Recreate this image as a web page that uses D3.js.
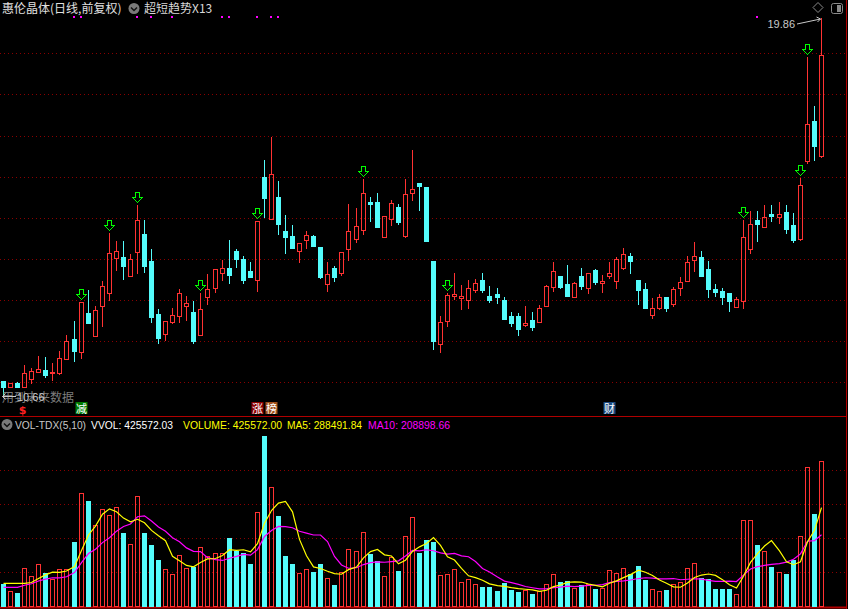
<!DOCTYPE html>
<html><head><meta charset="utf-8">
<script src="https://cdn.jsdelivr.net/npm/d3@7"></script>
<style>
html,body{margin:0;padding:0;background:#000;overflow:hidden;}
svg{display:block;}
</style></head>
<body>
<svg id="c" width="848" height="609"></svg>
<script>
// ---------------- DATA ----------------
const openP  = [11.03,10.87,10.98,10.87,11.08,11.25,11.29,11.21,11.21,11.56,12.05,11.74,12.67,12.13,12.86,13.18,14.03,14.04,13.59,14.17,14.60,13.95,12.66,12.16,12.47,12.62,12.86,12.71,12.15,13.08,13.30,13.65,13.78,14.19,14.00,13.70,13.48,15.99,14.98,15.50,14.68,14.55,14.20,14.46,14.56,14.29,13.39,13.78,13.66,14.25,14.49,14.71,15.38,15.38,14.54,14.98,15.26,14.56,15.59,15.84,15.75,13.95,11.93,12.49,13.10,13.05,13.00,13.24,13.48,13.09,13.14,13.00,12.61,12.61,12.39,12.51,12.47,12.86,13.32,13.58,13.39,13.08,13.58,13.30,13.73,13.42,13.59,13.47,13.78,14.07,13.48,13.27,12.64,12.81,13.07,12.91,13.30,13.47,13.98,14.04,13.75,13.27,13.22,13.17,12.83,12.98,14.25,14.94,14.78,15.09,15.02,15.14,14.82,14.48,16.37,17.35,16.51];
const highP  = [11.03,10.98,11.00,11.42,11.34,11.63,11.61,11.46,11.76,12.15,12.49,12.95,13.24,12.85,13.46,14.63,14.43,14.43,14.11,15.31,14.94,14.24,12.78,12.48,12.80,13.26,13.09,12.97,13.16,13.62,13.75,13.97,14.46,14.24,14.07,13.92,14.92,16.40,16.97,15.89,15.07,14.82,14.38,14.68,14.58,14.29,13.92,13.83,14.17,15.33,15.24,15.94,15.50,15.60,15.03,15.43,15.33,15.94,16.65,15.84,15.75,13.95,12.61,13.16,13.66,13.36,13.48,13.51,13.65,13.34,13.29,13.07,12.71,12.68,12.85,12.71,12.88,13.36,13.92,13.58,13.85,13.43,13.78,13.66,13.75,13.61,13.92,14.04,14.26,14.14,13.48,13.41,13.05,13.14,13.07,13.31,13.56,14.07,14.41,14.19,13.95,13.39,13.29,13.17,13.07,14.94,15.17,15.17,15.31,15.31,15.38,15.31,15.11,15.97,18.92,17.72,19.86];
const lowP   = [10.66,10.87,10.87,10.86,10.95,11.21,11.09,11.03,11.17,11.54,11.48,11.55,12.41,12.13,12.35,12.97,13.70,13.48,13.59,13.62,13.66,12.45,11.92,12.00,12.41,12.45,12.49,11.92,12.14,12.88,13.18,13.46,13.39,13.78,13.39,13.56,13.19,14.99,14.98,14.59,14.12,14.24,13.90,14.24,14.31,13.51,13.19,13.44,13.58,13.95,14.39,14.59,14.90,14.78,14.54,14.81,14.83,14.51,15.41,15.17,14.44,11.78,11.72,12.35,13.00,12.75,12.78,13.18,13.18,12.92,12.90,12.51,12.34,12.12,12.34,12.24,12.47,12.86,13.20,13.27,13.10,13.08,13.24,13.15,13.37,13.18,13.52,13.27,13.73,13.64,12.88,12.81,12.54,12.76,12.71,12.83,13.10,13.47,13.69,13.56,13.05,13.07,12.88,12.71,12.83,12.79,14.12,14.41,14.78,14.90,14.85,14.60,14.38,14.43,16.30,16.37,16.45];
const closeP = [10.87,10.98,10.87,11.21,11.27,11.31,11.17,11.24,11.58,11.99,11.76,12.94,12.44,12.75,13.34,14.13,14.19,13.82,14.00,14.94,13.82,12.59,12.08,12.48,12.63,13.16,12.92,12.00,12.77,13.26,13.75,13.78,13.61,14.00,13.48,13.56,14.92,15.48,16.06,14.85,14.53,14.26,14.38,14.58,14.31,13.56,13.63,13.56,14.17,14.68,14.80,15.60,15.34,14.78,15.03,15.36,14.90,15.58,15.70,15.78,14.44,12.00,12.46,13.12,13.14,13.09,13.29,13.41,13.24,13.00,13.07,12.54,12.44,12.29,12.44,12.34,12.80,13.34,13.70,13.32,13.10,13.41,13.34,13.65,13.44,13.46,13.65,14.00,14.12,13.95,13.24,12.81,12.80,13.07,12.81,13.27,13.44,13.92,14.07,13.58,13.27,13.19,13.07,12.97,13.02,14.53,14.85,14.85,15.02,15.04,15.09,14.72,14.46,15.80,17.28,16.74,18.96];
const volume = [63800,42100,37300,110800,87300,121600,96100,78500,106900,106900,187300,331400,307900,236300,283400,265800,289300,213800,180400,321600,213800,178500,134300,106900,93200,148100,109800,113700,171600,145100,154000,154000,199100,160800,154900,122600,274600,500100,348100,263800,146100,122600,95100,107900,99000,122600,81400,60800,99000,166700,160800,216700,152000,131400,87300,143200,102000,204900,260800,154900,193200,187300,90200,93200,107900,69600,78500,63700,54900,54900,43100,66700,46100,40200,46100,34300,43100,63700,93200,69600,72600,52000,60800,63700,49000,52000,105000,96100,110800,93200,116700,75500,49000,43100,46100,63700,69600,110800,125500,81400,78500,49000,49000,49000,34300,252000,252000,178000,161000,114000,100500,93000,134300,204900,407000,270700,425572];
// the nine sessions before the window (needed for the first MA5 / MA10 values)
const priorVolume = [42000,37000,50000,43000,40000,42100,37300,110800,74000];
const maPeriods = [5, 10];
const priceTicks = [11,12,13,14,15,16,17,18,19];
const volumeTicks = [100000,200000,300000,400000];
const signalArrowDays = [11,15,19,28,36,51,63,105,113,114];
const topDotDays = [10,11,19,21,24,31,32,36,38,39,107];
const badgeDays = [11,36,38,86];
const badgeTexts = ["减","涨","榜","财"];
const stockTitle = "惠伦晶体(日线,前复权)";
const indicatorTitle = "超短趋势X13";
const volHeader = ["VOL-TDX(5,10)","VVOL: 425572.03","VOLUME: 425572.00","MA5: 288491.84","MA10: 208898.66"];
const maxLabel = "19.86";
const minLabel = "10.66";
const noteText = "用到未来数据";

// ---------------- DRAW ----------------
const W = 848, H = 609;
const RED = "#ff3232", CYAN = "#54fcfc", GRID = "#8a0000", FRAME = "#b00000";
const svg = d3.select("#c");
svg.append("rect").attr("width",W).attr("height",H).attr("fill","#000");

const n = openP.length;
const x = d3.scaleLinear().domain([0, n]).range([0, 7.05*n]);
const cx = i => Math.round(x(i+0.5) - 2.5) + 2.5; // pixel center of 5px body
const y = d3.scaleLinear().domain([11,19]).range([382.1, 53.3]);
const vBase = 605.7;
const yv = d3.scaleLinear().domain([0,400000]).range([vBase, vBase - 400000/2941.7]);

// grids
const g = svg.append("g");
g.selectAll("line.pg").data(priceTicks).join("line")
  .attr("x1",0).attr("x2",846).attr("y1",d=>Math.round(y(d))+0.5).attr("y2",d=>Math.round(y(d))+0.5)
  .attr("stroke",GRID).attr("stroke-dasharray","1,3");
g.selectAll("line.vg").data(volumeTicks).join("line")
  .attr("x1",0).attr("x2",846).attr("y1",d=>Math.round(yv(d))+0.5).attr("y2",d=>Math.round(yv(d))+0.5)
  .attr("stroke",GRID).attr("stroke-dasharray","1,3");

// frame
svg.append("line").attr("x1",0).attr("x2",847).attr("y1",416.5).attr("y2",416.5).attr("stroke",FRAME);
svg.append("line").attr("x1",0).attr("x2",847).attr("y1",607.5).attr("y2",607.5).attr("stroke",FRAME).attr("stroke-width",2);
svg.append("line").attr("x1",846.5).attr("x2",846.5).attr("y1",0).attr("y2",609).attr("stroke",FRAME);

// candles
const days = d3.range(n);
const up = i => closeP[i] >= openP[i];
const cg = svg.append("g").attr("shape-rendering","crispEdges");
days.forEach(i=>{
  const c = cx(i);
  const top = Math.round(y(Math.max(openP[i],closeP[i])));
  const bot = Math.round(y(Math.min(openP[i],closeP[i])));
  const hi = Math.round(y(highP[i])), lo = Math.round(y(lowP[i]));
  if (up(i)) {
    if (hi < top) cg.append("line").attr("x1",c).attr("x2",c).attr("y1",hi).attr("y2",top).attr("stroke",RED);
    if (lo > bot) cg.append("line").attr("x1",c).attr("x2",c).attr("y1",bot).attr("y2",lo).attr("stroke",RED);
    cg.append("rect").attr("x",c-2).attr("y",top+0.5).attr("width",4).attr("height",Math.max(1,bot-top))
      .attr("fill","none").attr("stroke",RED);
  } else {
    cg.append("line").attr("x1",c).attr("x2",c).attr("y1",hi).attr("y2",lo).attr("stroke",CYAN);
    cg.append("rect").attr("x",c-2.5).attr("y",top).attr("width",5).attr("height",Math.max(2,bot-top+1))
      .attr("fill",CYAN);
  }
});

// signal arrows
svg.append("g").attr("shape-rendering","crispEdges").selectAll("path").data(signalArrowDays).join("path")
  .attr("d",i=>{
    const c = cx(i), t = Math.round(y(highP[i])) - 13 + 0.5;
    return `M${c-2},${t}L${c+2},${t}L${c+2},${t+5}L${c+5},${t+5}L${c},${t+10}L${c-5},${t+5}L${c-2},${t+5}Z`;
  })
  .attr("fill","none").attr("stroke","#00ff00").attr("stroke-width",1);

// top dots
svg.append("g").selectAll("rect").data(topDotDays).join("rect")
  .attr("x",i=>cx(i)-1.5).attr("y",16).attr("width",2).attr("height",2).attr("fill","#ff00ff");

// badges
const badgeFill = {"减":"#007a00","涨":"#8a0000","榜":"#a0501a","财":"#1c4a80"};
const bg = svg.append("g");
badgeDays.forEach((d,k)=>{
  const c = cx(d);
  bg.append("rect").attr("x",c-6).attr("y",402).attr("width",12).attr("height",12).attr("fill",badgeFill[badgeTexts[k]]);
  bg.append("text").attr("x",c).attr("y",412.5).attr("text-anchor","middle")
    .attr("font-family","Noto Sans CJK SC").attr("font-size",11).attr("fill","#fff").text(badgeTexts[k]);
});
// S marker
svg.append("text").attr("x",22.5).attr("y",414).attr("text-anchor","middle").attr("font-family","DejaVu Sans")
  .attr("font-weight","bold").attr("font-size",11).attr("fill","#ff2020").text("$");

// volume bars
const vg = svg.append("g").attr("shape-rendering","crispEdges");
days.forEach(i=>{
  const c = cx(i);
  const t = Math.round(yv(volume[i]));
  if (up(i)) vg.append("rect").attr("x",c-2).attr("y",t+0.5).attr("width",4).attr("height",Math.round(vBase)-t)
      .attr("fill","none").attr("stroke",RED);
  else vg.append("rect").attr("x",c-2.5).attr("y",t).attr("width",5).attr("height",Math.round(vBase)-t+1).attr("fill",CYAN);
});

// moving averages of volume
const full = priorVolume.concat(volume);
const off = priorVolume.length;
const ma = p => days.map(i => d3.mean(full.slice(i+off-p+1, i+off+1)));
const line = d3.line().x((d,i)=>cx(i)).y(d=>yv(d));
svg.append("path").attr("d",line(ma(maPeriods[1]))).attr("fill","none").attr("stroke","#ff00ff").attr("stroke-width",1.2);
svg.append("path").attr("d",line(ma(maPeriods[0]))).attr("fill","none").attr("stroke","#ffff00").attr("stroke-width",1.2);

// header texts
svg.append("text").attr("x",2).attr("y",12.5).attr("font-family","Noto Sans CJK SC").attr("font-size",12)
  .attr("fill","#e0e0e0").text(stockTitle);
function chevronCircle(px,py){
  svg.append("circle").attr("cx",px).attr("cy",py).attr("r",5.5).attr("fill","#7a7a7a");
  svg.append("path").attr("d",`M${px-3},${py-1}L${px},${py+2}L${px+3},${py-1}`).attr("fill","none").attr("stroke","#111").attr("stroke-width",1.5);
}
chevronCircle(134,8.5);
svg.append("text").attr("x",144).attr("y",12.5).attr("font-family","Noto Sans CJK SC").attr("font-size",12)
  .attr("fill","#d8d8d8").text(indicatorTitle);

chevronCircle(7,424.5);
const vhX = [15,91,183,287,368];
const vhW = [71,82,99,75,82];
const vhC = ["#c8c8c8","#ffffff","#ffff00","#ffff00","#ff00ff"];
volHeader.forEach((t,k)=>{
  svg.append("text").attr("x",vhX[k]).attr("y",428.5).attr("font-family","Liberation Sans, Arial").attr("font-size",11)
    .attr("textLength",vhW[k]).attr("lengthAdjust","spacingAndGlyphs")
    .attr("fill",vhC[k]).text(t);
});

// max / min labels
const hiIdx = d3.maxIndex(highP), loIdx = d3.minIndex(lowP);
svg.append("text").attr("x",795).attr("y",28).attr("text-anchor","end").attr("font-family","Liberation Sans, Arial")
  .attr("font-size",11).attr("fill","#c8c8c8").text(maxLabel);
svg.append("path").attr("d",`M797,24L${cx(hiIdx)-1},${Math.round(y(highP[hiIdx]))+1}`).attr("stroke","#c8c8c8").attr("fill","none");
svg.append("path").attr("d",`M${cx(hiIdx)-5},${Math.round(y(highP[hiIdx]))-1}L${cx(hiIdx)-1},${Math.round(y(highP[hiIdx]))+1}L${cx(hiIdx)-4},${Math.round(y(highP[hiIdx]))+4}`).attr("stroke","#c8c8c8").attr("fill","none");

svg.append("text").attr("x",2).attr("y",402).attr("font-family","Noto Sans CJK SC").attr("font-size",12)
  .attr("fill","#7c7c7c").text(noteText);
const ly = Math.round(y(lowP[loIdx]))+0.5;
svg.append("path").attr("d",`M${cx(loIdx)-1},${ly}L16,${ly}M${cx(loIdx)+2},${ly-3}L${cx(loIdx)-1},${ly}L${cx(loIdx)+2},${ly+3}`).attr("stroke","#c8c8c8").attr("fill","none");
svg.append("text").attr("x",17).attr("y",ly+4).attr("font-family","Liberation Sans, Arial").attr("font-size",11)
  .attr("fill","#c8c8c8").text(minLabel);

// top-right icons
svg.append("path").attr("d","M818,2.5L823,7.5L818,12.5L813,7.5Z").attr("fill","none").attr("stroke","#8a8a8a");
svg.append("rect").attr("x",831.5).attr("y",3.5).attr("width",11).attr("height",10).attr("rx",2).attr("fill","none").attr("stroke","#8a8a8a");
svg.append("rect").attr("x",837).attr("y",5).attr("width",4).attr("height",7).attr("fill","#8a8a8a");
</script>
</body></html>
